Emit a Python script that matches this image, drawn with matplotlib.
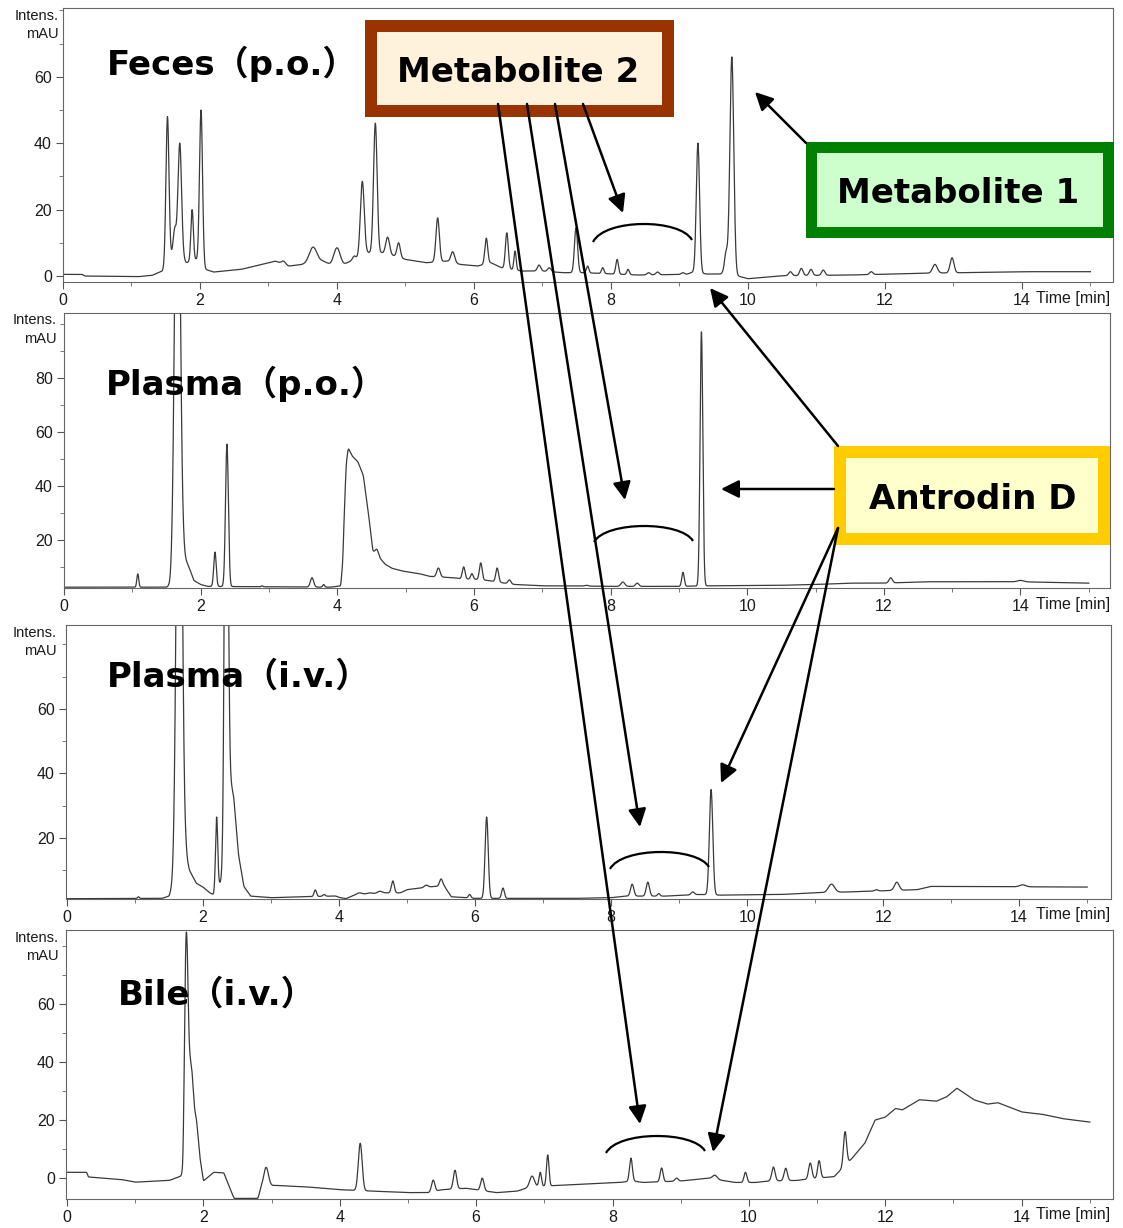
import numpy as np
import matplotlib
matplotlib.use("Agg")
import matplotlib.pyplot as plt
from matplotlib.patches import Rectangle, FancyArrowPatch, PathPatch
from matplotlib.path import Path
from matplotlib.ticker import MultipleLocator

# ---- data (time in min, intensity in mAU) ----
# baseline knots + peak apexes (time, apex value, width sigma)
FECES_BASE_T = [0, 0.28, 0.32, 1.1, 1.3, 1.45, 1.5, 1.58, 1.64, 1.8, 1.94, 2.08, 2.2, 2.6, 2.9,
                3.1, 3.3, 3.5, 3.8, 3.9, 4.1, 4.25, 4.45, 4.65, 4.85, 5.0, 5.3, 5.6, 5.8, 6.05,
                6.25, 6.4, 6.7, 7.0, 7.3, 7.6, 8.4, 9.1, 9.2, 9.4, 9.6, 9.7, 9.85, 10.0, 10.5,
                11.5, 12.5, 14.0, 15.0]
FECES_BASE_Y = [0.5, 0.5, 0.0, -0.2, 0.2, 1.5, 3.0, 6.0, 8.0, 4.0, 5.0, 2.0, 1.2, 2.0, 3.5,
                4.5, 3.0, 3.5, 4.5, 3.5, 3.5, 5.0, 7.0, 7.0, 6.0, 5.0, 4.0, 4.5, 3.5, 3.0,
                4.0, 2.5, 1.5, 1.5, 1.0, 1.0, 0.3, 0.5, 1.2, 0.6, 0.6, 2.0, 0.0, -0.8, 0.1,
                0.3, 0.8, 1.3, 1.3]
FECES_PEAK_T = [1.525, 1.63, 1.705, 1.885, 2.015, 3.22, 3.65, 4.0, 4.25, 4.37, 4.56, 4.74, 4.9,
                5.47, 5.69, 6.18, 6.48, 6.6, 6.95, 7.1, 7.49, 7.66, 7.88, 8.09, 8.25, 8.55, 8.68,
                9.05, 9.27, 9.68, 9.765, 10.62, 10.78, 10.92, 11.1, 11.8, 12.73, 12.98]
FECES_PEAK_Y = [48, 14, 40, 20, 50, 4.5, 8.7, 8.5, 6, 28.5, 46, 11.7, 10,
                17.5, 7.3, 11.4, 13, 7.5, 3.3, 2.5, 14.5, 3, 2.5, 5, 2, 1, 1.2,
                1, 40, 7, 66, 1.3, 2.3, 2, 1.8, 1.3, 3.5, 5.5]
FECES_PEAK_W = [0.022, 0.022, 0.026, 0.018, 0.022, 0.028, 0.055, 0.045, 0.022, 0.028, 0.026, 0.028, 0.024,
                0.025, 0.028, 0.021, 0.021, 0.016, 0.024, 0.024, 0.023, 0.018, 0.018, 0.019, 0.018, 0.024, 0.024,
                0.024, 0.024, 0.022, 0.028, 0.024, 0.024, 0.024, 0.024, 0.024, 0.034, 0.028]

PLPO_BASE_T = [0, 1.5, 1.55, 1.75, 1.83, 1.9, 2.0, 2.1, 3.9, 4.05, 4.08, 4.1, 4.13, 4.16, 4.22,
               4.3, 4.38, 4.45, 4.52, 4.6, 4.7, 4.8, 4.95, 5.2, 5.35, 5.7, 5.85, 6.0, 6.2, 6.45,
               6.6, 7.0, 7.4, 8.0, 9.0, 9.4, 10.5, 11.0, 11.5, 12.0, 12.6, 14.0, 15.0]
PLPO_BASE_Y = [2.5, 2.5, 3.0, 14, 10, 5, 3.5, 2.8, 2.5, 3.0, 12, 28, 48, 54, 51,
               49, 44, 31, 16, 14, 11, 9.5, 8.5, 7.5, 6.5, 6.0, 5.5, 5.5, 5.0, 4.0,
               3.5, 3.0, 3.0, 2.8, 2.8, 3.0, 3.2, 3.5, 4.0, 4.0, 4.5, 4.5, 4.0]
PLPO_PEAK_T = [1.08, 1.66, 2.21, 2.385, 2.9, 3.63, 3.8, 4.58, 5.48, 5.85, 5.97, 6.1, 6.34, 6.52,
               7.65, 8.18, 8.39, 9.06, 9.33, 12.1, 14.0]
PLPO_PEAK_Y = [7.4, 200, 15.5, 55.5, 3.0, 6.0, 3.5, 16.5, 9.6, 10, 7.5, 11.5, 9.6, 5.2,
               3.2, 4.4, 4.0, 8.0, 97, 6.0, 5.0]
PLPO_PEAK_W = [0.014, 0.038, 0.018, 0.021, 0.012, 0.024, 0.014, 0.022, 0.024, 0.02, 0.018, 0.02, 0.02, 0.021,
               0.024, 0.028, 0.024, 0.018, 0.02, 0.024, 0.045]

PLIV_BASE_T = [0, 1.4, 1.5, 1.75, 1.8, 1.9, 2.0, 2.1, 2.15, 2.25, 2.3, 2.38, 2.45, 2.52, 2.6,
               2.7, 3.0, 3.5, 3.9, 4.1, 4.25, 4.7, 4.9, 5.0, 5.2, 5.4, 5.55, 5.65, 6.0, 7.5,
               8.0, 8.2, 8.8, 9.3, 9.6, 10.5, 11.0, 11.5, 12.5, 12.7, 15.0]
PLIV_BASE_Y = [1.2, 1.3, 2.0, 14, 10, 6.0, 4.8, 3.0, 2.5, 6.0, 8.0, 40, 33, 15, 5.0,
               2.0, 1.5, 1.8, 2.0, 1.2, 2.5, 3.0, 3.0, 4.0, 4.5, 5.0, 5.0, 1.8, 1.3, 1.3,
               1.5, 2.0, 2.0, 2.5, 2.3, 2.5, 3.0, 3.3, 4.0, 5.0, 4.8]
PLIV_PEAK_T = [1.05, 1.65, 2.2, 2.34, 3.65, 3.78, 3.95, 4.3, 4.45, 4.6, 4.79, 5.28, 5.5, 5.92,
               6.17, 6.41, 8.31, 8.54, 8.7, 9.2, 9.47, 11.24, 11.9, 12.2, 14.05]
PLIV_PEAK_Y = [1.8, 200, 26.5, 200, 3.9, 2.5, 2.0, 3.0, 3.0, 3.5, 6.7, 5.4, 7.3, 2.5,
               26.5, 4.5, 5.7, 6.3, 2.8, 3.3, 35, 5.7, 4.0, 6.3, 5.5]
PLIV_PEAK_W = [0.012, 0.038, 0.016, 0.024, 0.018, 0.018, 0.024, 0.034, 0.034, 0.034, 0.021, 0.028, 0.023, 0.018,
               0.023, 0.02, 0.024, 0.024, 0.018, 0.024, 0.025, 0.045, 0.024, 0.034, 0.045]

BILE_BASE_T = [0, 0.29, 0.31, 0.8, 1.0, 1.5, 1.65, 1.7, 1.77, 1.83, 1.87, 1.9, 1.95, 2.0, 2.05,
               2.15, 2.3, 2.38, 2.45, 2.8, 2.85, 3.05, 3.5, 4.0, 4.5, 5.0, 5.3, 5.5, 5.85, 6.0,
               6.3, 6.6, 6.8, 7.2, 8.1, 8.3, 8.45, 9.0, 9.4, 9.8, 10.1, 10.3, 10.7, 11.0, 11.25,
               11.5, 11.7, 11.85, 12.0, 12.15, 12.25, 12.5, 12.75, 12.9, 13.05, 13.3, 13.5, 13.65,
               14.0, 14.3, 14.6, 15.0]
BILE_BASE_Y = [2.0, 2.0, 0.4, -0.5, -1.4, -0.8, 0.5, 1.0, 45, 38, 24, 20, 7.0, -1.0, 0.0,
               2.0, 1.8, -3.0, -7.0, -7.0, -3.0, -2.5, -3.0, -4.0, -4.5, -5.0, -5.0, -4.0, -3.5, -4.0,
               -5.0, -4.5, -3.0, -2.5, -1.5, -1.0, -1.5, -1.0, 0.0, -1.5, -1.5, -1.0, -0.8, 0.0, 0.5,
               6.5, 12, 20, 21, 24, 23.5, 27, 26.5, 28, 31, 27, 25.5, 26,
               22.8, 22, 20.5, 19.3]
BILE_PEAK_T = [1.745, 2.92, 4.3, 5.37, 5.69, 6.09, 6.82, 6.94, 7.05, 8.27, 8.72, 8.94, 9.5, 9.95,
               10.36, 10.54, 10.9, 11.03, 11.41]
BILE_PEAK_Y = [83, 3.7, 12, -0.7, 2.7, 0.0, 0.7, 2.0, 8.0, 6.9, 3.5, 0.0, 1.0, 2.0,
               3.8, 3.4, 5.2, 6.0, 16]
BILE_PEAK_W = [0.022, 0.034, 0.028, 0.024, 0.024, 0.024, 0.034, 0.018, 0.018, 0.021, 0.021, 0.024, 0.034, 0.021,
               0.024, 0.024, 0.024, 0.021, 0.023]

TITLES = ["Feces（p.o.）", "Plasma（p.o.）", "Plasma（i.v.）", "Bile（i.v.）"]
X_TICKS = [0, 2, 4, 6, 8, 10, 12, 14]

W, H = 1123, 1228


def fx(x):
    return x / W


def fy(y):
    return 1 - y / H


def trace(base_t, base_y, pk_t, pk_y, pk_w):
    t = np.linspace(0, 15, 7501)
    base = np.interp(t, base_t, base_y)
    k = np.ones(9) / 9
    base = np.convolve(np.pad(base, 4, mode="edge"), k, mode="valid")
    y = base.copy()
    for tc, apex, w in zip(pk_t, pk_y, pk_w):
        amp = apex - np.interp(tc, base_t, base_y)
        y += amp * np.exp(-0.5 * ((t - tc) / w) ** 2)
    return t, y


plt.rcParams["font.family"] = ["Liberation Sans", "DejaVu Sans"]
fig = plt.figure(figsize=(W / 100, H / 100), dpi=100, facecolor="white")

panels = [
    # data, (left, top, right, bottom) px, xlim, ylim, yticks, title (x, baseline), intens (x, y1, y2)
    ((FECES_BASE_T, FECES_BASE_Y, FECES_PEAK_T, FECES_PEAK_Y, FECES_PEAK_W),
     (63, 8, 1113, 282), (0, 15.33), (-1.8, 80.7), [0, 20, 40, 60], (107, 75), (59, 16, 34)),
    ((PLPO_BASE_T, PLPO_BASE_Y, PLPO_PEAK_T, PLPO_PEAK_Y, PLPO_PEAK_W),
     (64, 313, 1110, 588), (0, 15.31), (2.2, 104), [20, 40, 60, 80], (106, 395), (57, 320, 339)),
    ((PLIV_BASE_T, PLIV_BASE_Y, PLIV_PEAK_T, PLIV_PEAK_Y, PLIV_PEAK_W),
     (66, 625, 1111, 899), (-0.015, 15.35), (1.1, 86), [20, 40, 60], (107, 687), (57, 633, 651)),
    ((BILE_BASE_T, BILE_BASE_Y, BILE_PEAK_T, BILE_PEAK_Y, BILE_PEAK_W),
     (66, 930, 1113, 1199), (-0.015, 15.34), (-7.2, 85.5), [0, 20, 40, 60], (118, 1005), (59, 938, 956)),
]

for (data, (l, t, r, b), xlim, ylim, yticks, (tx, tb), (ix, iy1, iy2)), title in zip(panels, TITLES):
    ax = fig.add_axes([fx(l), fy(b), (r - l) / W, (b - t) / H])
    tt, yy = trace(*data)
    ax.plot(tt, yy, color="#3a3a3a", lw=0.9)
    ax.set_xlim(*xlim)
    ax.set_ylim(*ylim)
    ax.set_xticks(X_TICKS)
    ax.xaxis.set_minor_locator(MultipleLocator(1))
    ax.set_yticks(yticks)
    ax.yaxis.set_minor_locator(MultipleLocator(10))
    for s in ax.spines.values():
        s.set_color("#666666")
        s.set_linewidth(0.8)
    ax.tick_params(which="major", length=5, width=0.8, color="#555555",
                   labelsize=11.5, labelcolor="#1a1a1a", pad=3)
    ax.tick_params(which="minor", length=3, width=0.7, color="#777777")
    fig.text(fx(tx), fy(tb), title, fontsize=24.5, fontweight="bold", va="baseline", ha="left",
             family=["DejaVu Sans", "Noto Sans CJK SC"], zorder=4)
    fig.text(fx(ix), fy(iy1), "Intens.", fontsize=10.5, ha="right", va="center", color="#1a1a1a")
    fig.text(fx(ix), fy(iy2), "mAU", fontsize=10.5, ha="right", va="center", color="#1a1a1a")
    fig.text(fx(1036), fy(b + 16), "Time [min]", fontsize=11.5, ha="left", va="center", color="#1a1a1a")


# ---- annotation boxes ----
def box(x0, y0, x1, y1, edge, face, label, tx, ty, bw=12):
    fig.add_artist(Rectangle((fx(x0), fy(y1)), (x1 - x0) / W, (y1 - y0) / H,
                             transform=fig.transFigure, facecolor=edge, edgecolor="none", zorder=5))
    fig.add_artist(Rectangle((fx(x0 + bw), fy(y1 - bw)), (x1 - x0 - 2 * bw) / W, (y1 - y0 - 2 * bw) / H,
                             transform=fig.transFigure, facecolor=face, edgecolor="none", zorder=5))
    fig.text(fx(tx), fy(ty), label, fontsize=24.5, fontweight="bold", ha="center", va="baseline",
             family=["DejaVu Sans"], zorder=6)


box(365, 20, 674, 117, "#993300", "#fff2dc", "Metabolite 2", 518, 82)
box(806, 142, 1114, 238, "#008000", "#ccffcc", "Metabolite 1", 958, 203, bw=11)
box(834, 446, 1110, 545, "#ffcc00", "#ffffcc", "Antrodin D", 973, 509)


def arrow(x0, y0, x1, y1):
    fig.add_artist(FancyArrowPatch((fx(x0), fy(y0)), (fx(x1), fy(y1)), transform=fig.transFigure,
                                   arrowstyle="-|>,head_length=0.6,head_width=0.3", mutation_scale=18,
                                   lw=1.8, color="black", shrinkA=0, shrinkB=0, zorder=7))


# Metabolite 2
arrow(498, 104, 640, 1124)
arrow(527, 104, 640, 827)
arrow(555, 104, 625, 500)
arrow(583, 104, 623, 213)
# Metabolite 1
arrow(806, 143, 755, 92)
# Antrodin D
arrow(838, 446, 710, 288)
arrow(834, 489, 721, 489)
arrow(838, 528, 721, 783)
arrow(838, 528, 713, 1152)


def arc(x0, y0, xm, ym, x1, y1):
    # cubic bezier through the end points with apex near (xm, ym)
    c = (8 * ym - y0 - y1) / 6
    verts = [(fx(x0), fy(y0)), (fx(x0 + 0.12 * (x1 - x0)), fy(c)),
             (fx(x1 - 0.12 * (x1 - x0)), fy(c)), (fx(x1), fy(y1))]
    p = Path(verts, [Path.MOVETO, Path.CURVE4, Path.CURVE4, Path.CURVE4])
    fig.add_artist(PathPatch(p, transform=fig.transFigure, fc="none", ec="black", lw=1.6, zorder=7))


arc(593, 242, 643, 224, 692, 240)
arc(594, 542, 643, 526, 693, 541)
arc(610, 869, 660, 852, 709, 867)
arc(606, 1153, 655, 1136, 705, 1151)

fig.savefig("out.png", dpi=100, facecolor="white")
